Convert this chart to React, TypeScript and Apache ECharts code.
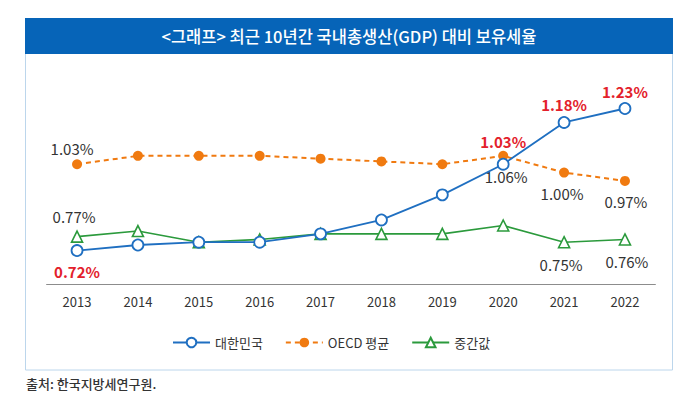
import React, { useEffect, useRef } from "react";
import * as echarts from "echarts";

const years = ["2013", "2014", "2015", "2016", "2017", "2018", "2019", "2020", "2021", "2022"];
const korea = [0.72, 0.74, 0.75, 0.75, 0.78, 0.83, 0.92, 1.03, 1.18, 1.23];
const oecd = [1.03, 1.06, 1.06, 1.06, 1.05, 1.04, 1.03, 1.06, 1.0, 0.97];
const median = [0.77, 0.79, 0.75, 0.76, 0.78, 0.78, 0.78, 0.81, 0.75, 0.76];
const seriesNames = ["대한민국", "OECD 평균", "중간값"];
const titleText = "<그래프> 최근 10년간 국내총생산(GDP) 대비 보유세율";
const sourceText = "출처: 한국지방세연구원.";

const FONT = "'Noto Sans CJK KR', 'Noto Sans', sans-serif";
const RED = "#e3212b";
const DARK = "#333333";

type LabelSpec = { idx: number; pos: string; red: boolean; offset?: number[] };

const koreaLabels: LabelSpec[] = [
  { idx: 0, pos: "bottom", red: true, offset: [0, 2] },
  { idx: 7, pos: "top", red: true, offset: [0, -4] },
  { idx: 8, pos: "top", red: true, offset: [0, 1] },
  { idx: 9, pos: "top", red: true, offset: [0, 2] },
];
const oecdLabels: LabelSpec[] = [
  { idx: 0, pos: "top", red: false, offset: [-5, 2] },
  { idx: 7, pos: "bottom", red: false, offset: [3, 3] },
  { idx: 8, pos: "bottom", red: false, offset: [-2, 3] },
  { idx: 9, pos: "bottom", red: false, offset: [1, 3] },
];
const medianLabels: LabelSpec[] = [
  { idx: 0, pos: "top", red: false, offset: [-3, -1] },
  { idx: 8, pos: "bottom", red: false, offset: [-3, 3] },
  { idx: 9, pos: "bottom", red: false, offset: [2, 3] },
];

function buildData(values: number[], labels: LabelSpec[]) {
  return values.map((v, i) => {
    const l = labels.find((x) => x.idx === i);
    if (!l) return v;
    return {
      value: v,
      label: {
        show: true,
        position: l.pos,
        offset: l.offset || [0, 0],
        formatter: (p: any) => `${Number(p.value).toFixed(2)}%`,
        color: l.red ? RED : DARK,
        fontWeight: l.red ? "bold" : "normal",
        fontSize: 15,
        fontFamily: FONT,
      },
    };
  });
}

export default function App() {
  const ref = useRef<HTMLDivElement>(null);
  useEffect(() => {
    if (!ref.current) return;
    const chart = echarts.init(ref.current, undefined, { renderer: "svg" });
    chart.setOption({
      animation: false,
      backgroundColor: "#ffffff",
      textStyle: { fontFamily: FONT },
      graphic: [
        {
          type: "rect",
          shape: { x: 25.5, y: 18.5, width: 647, height: 351.5 },
          style: { fill: "none", stroke: "#bcd6ec", lineWidth: 1 },
          z: 0,
        },
        {
          type: "rect",
          shape: { x: 25, y: 18, width: 648, height: 36 },
          style: { fill: "#0664b8" },
          z: 1,
        },
        {
          type: "text",
          x: 349,
          y: 36,
          style: {
            text: titleText,
            fill: "#ffffff",
            font: `500 16.5px ${FONT}`,
            textAlign: "center",
            textVerticalAlign: "middle",
          },
          z: 2,
        },
        {
          type: "text",
          x: 26,
          y: 383,
          style: {
            text: sourceText,
            fill: DARK,
            font: `500 13px ${FONT}`,
            textAlign: "left",
            textVerticalAlign: "middle",
          },
          z: 2,
        },
      ],
      legend: {
        left: 167,
        top: 331,
        itemWidth: 37,
        itemHeight: 12,
        itemGap: 22,
        textStyle: { fontSize: 13, color: DARK, fontFamily: FONT, padding: [0, 0, 0, 0] },
        data: seriesNames,
      },
      grid: { left: 46.6, right: 35.6, top: 89, bottom: 121, containLabel: false },
      xAxis: {
        type: "category",
        data: years,
        boundaryGap: true,
        axisLine: { lineStyle: { color: "#8c8c8c", width: 1 } },
        axisTick: { alignWithLabel: true, length: 5, lineStyle: { color: "#8c8c8c" } },
        axisLabel: { color: DARK, fontSize: 13, margin: 11, fontFamily: FONT },
      },
      yAxis: {
        type: "value",
        min: 0.6,
        max: 1.3,
        show: false,
        splitLine: { show: false },
      },
      series: [
        {
          name: seriesNames[2],
          type: "line",
          data: buildData(median, medianLabels),
          symbol: "triangle",
          symbolSize: 11,
          itemStyle: { color: "#ffffff", borderColor: "#2b9a3c", borderWidth: 1.6 },
          lineStyle: { color: "#2b9a3c", width: 1.6 },
          z: 2,
        },
        {
          name: seriesNames[1],
          type: "line",
          data: buildData(oecd, oecdLabels),
          symbol: "circle",
          symbolSize: 10,
          itemStyle: { color: "#f07a10" },
          lineStyle: { color: "#f07a10", width: 2, type: [5, 4] },
          z: 3,
        },
        {
          name: seriesNames[0],
          type: "line",
          data: buildData(korea, koreaLabels),
          symbol: "circle",
          symbolSize: 11,
          itemStyle: { color: "#ffffff", borderColor: "#1f6fc1", borderWidth: 1.8 },
          lineStyle: { color: "#1f6fc1", width: 1.8 },
          z: 4,
        },
      ],
    });
    return () => chart.dispose();
  }, []);
  return (
    <div
      ref={ref}
      style={{ position: "fixed", left: 0, top: 0, width: 691, height: 405, background: "#fff" }}
    />
  );
}
